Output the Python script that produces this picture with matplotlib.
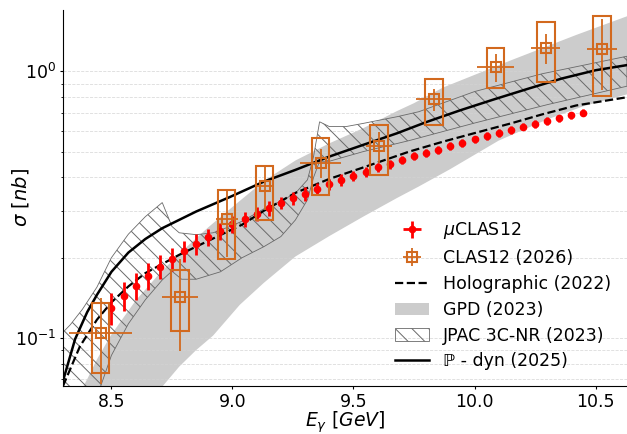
import matplotlib
matplotlib.use("Agg")
import matplotlib.pyplot as plt
import matplotlib.ticker as mticker
from matplotlib.patches import Rectangle, Patch

# muCLAS12 pseudo-data
mu_E = [8.50, 8.55, 8.60, 8.65, 8.70, 8.75, 8.80, 8.85, 8.90, 8.95,
        9.00, 9.05, 9.10, 9.15, 9.20, 9.25, 9.30, 9.35, 9.40, 9.45,
        9.50, 9.55, 9.60, 9.65, 9.70, 9.75, 9.80, 9.85, 9.90, 9.95,
        10.00, 10.05, 10.10, 10.15, 10.20, 10.25, 10.30, 10.35, 10.40, 10.45]
mu_sigma = [0.130, 0.144, 0.157, 0.171, 0.185, 0.198, 0.212, 0.225, 0.239, 0.252,
            0.267, 0.279, 0.292, 0.306, 0.321, 0.334, 0.347, 0.362, 0.377, 0.391,
            0.406, 0.421, 0.436, 0.449, 0.465, 0.481, 0.494, 0.509, 0.525, 0.540,
            0.556, 0.573, 0.588, 0.603, 0.621, 0.635, 0.652, 0.668, 0.684, 0.700]
mu_err = [0.018, 0.018, 0.0185, 0.020, 0.019, 0.020, 0.019, 0.020, 0.017, 0.018,
          0.019, 0.019, 0.018, 0.020, 0.017, 0.019, 0.020, 0.019, 0.019, 0.020,
          0.017, 0.018, 0.017, 0.017, 0.016, 0.017, 0.017, 0.018, 0.018, 0.018,
          0.018, 0.019, 0.019, 0.019, 0.020, 0.020, 0.020, 0.021, 0.021, 0.022]

# CLAS12 (2026)
clas_E = [8.455, 8.784, 8.976, 9.133, 9.364, 9.605, 9.832, 10.087, 10.295, 10.526]
clas_sigma = [0.104, 0.143, 0.279, 0.371, 0.455, 0.523, 0.785, 1.040, 1.225, 1.215]
clas_xerr = [0.129, 0.074, 0.045, 0.038, 0.085, 0.054, 0.072, 0.076, 0.060, 0.063]
clas_yerr = [0.037, 0.054, 0.078, 0.068, 0.057, 0.070, 0.077, 0.125, 0.155, 0.360]
clas_sys_lo = [0.074, 0.1065, 0.198, 0.277, 0.344, 0.409, 0.632, 0.863, 0.910, 0.812]
clas_sys_hi = [0.135, 0.180, 0.359, 0.441, 0.564, 0.632, 0.936, 1.226, 1.535, 1.614]

# Holographic (2022)
holo_E = [8.30, 8.37, 8.44, 8.50, 8.57, 8.64, 8.78, 8.92, 9.04, 9.13,
          9.26, 9.40, 9.54, 9.73, 9.87, 10.01, 10.15, 10.28, 10.42, 10.63]
holo = [0.066, 0.093, 0.117, 0.136, 0.156, 0.175, 0.205, 0.236, 0.266, 0.300,
        0.350, 0.395, 0.436, 0.500, 0.545, 0.590, 0.638, 0.690, 0.745, 0.800]

# P - dyn (2025)
pdyn_E = [8.30, 8.35, 8.40, 8.44, 8.50, 8.57, 8.64, 8.71, 8.85, 8.99, 9.13,
          9.26, 9.40, 9.54, 9.68, 9.80, 9.94, 10.08, 10.22, 10.36, 10.50, 10.63]
pdyn = [0.069, 0.099, 0.125, 0.145, 0.177, 0.209, 0.235, 0.258, 0.298, 0.338, 0.386,
        0.427, 0.479, 0.530, 0.586, 0.645, 0.714, 0.785, 0.860, 0.940, 1.010, 1.056]

# GPD (2023) band
gpd_up_E = [8.36, 8.40, 8.44, 8.50, 8.60, 8.70, 8.80, 8.90, 9.00, 9.13,
            9.26, 9.40, 9.54, 9.68, 9.75, 9.87, 10.15, 10.42, 10.63]
gpd_up = [0.060, 0.070, 0.083, 0.103, 0.138, 0.175, 0.215, 0.260, 0.310, 0.388,
          0.463, 0.537, 0.612, 0.710, 0.760, 0.870, 1.100, 1.370, 1.610]
gpd_lo_E = [8.66, 8.70, 8.78, 8.85, 8.92, 9.03, 9.13, 9.26, 9.40, 9.54,
            9.68, 9.77, 9.90, 10.10, 10.30, 10.45, 10.63]
gpd_lo = [0.058, 0.064, 0.078, 0.090, 0.102, 0.133, 0.161, 0.202, 0.241, 0.285,
          0.335, 0.370, 0.430, 0.550, 0.660, 0.740, 0.820]

# JPAC 3C-NR (2023) band
jpac_up_E = [8.30, 8.33, 8.38, 8.44, 8.50, 8.57, 8.64, 8.71, 8.75, 8.78,
             8.85, 8.92, 8.99, 9.04, 9.13, 9.20, 9.26, 9.31, 9.335, 9.36,
             9.40, 9.47, 9.54, 9.61, 9.68, 9.77, 10.00, 10.28, 10.63]
jpac_up = [0.105, 0.112, 0.128, 0.155, 0.200, 0.245, 0.285, 0.322, 0.262, 0.248,
           0.244, 0.248, 0.262, 0.274, 0.305, 0.326, 0.349, 0.392, 0.479, 0.647,
           0.621, 0.621, 0.638, 0.657, 0.676, 0.706, 0.840, 0.980, 1.140]
jpac_lo_E = [8.30, 8.44, 8.50, 8.57, 8.64, 8.71, 8.75, 8.79, 8.85, 8.95,
             9.04, 9.13, 9.20, 9.26, 9.31, 9.335, 9.36, 9.40, 9.54, 9.73,
             10.00, 10.30, 10.63]
jpac_lo = [0.050, 0.060, 0.086, 0.113, 0.139, 0.165, 0.178, 0.166, 0.166, 0.177,
           0.200, 0.220, 0.240, 0.277, 0.330, 0.400, 0.460, 0.460, 0.500, 0.550,
           0.640, 0.750, 0.880]

orange = "#d2691e"
box_half = 0.0365

plt.rcParams["hatch.linewidth"] = 0.7

fig = plt.figure(figsize=(6.27, 4.34), dpi=100)
ax = fig.add_axes([0.1005, 0.1106, 0.8995, 0.8664])
ax.set_yscale("log")

ax.fill(gpd_up_E + gpd_lo_E[::-1], gpd_up + gpd_lo[::-1],
        color="gray", alpha=0.4, lw=0, zorder=1)
ax.fill(jpac_up_E + jpac_lo_E[::-1], jpac_up + jpac_lo[::-1],
        facecolor="none", edgecolor="dimgray", hatch="\\\\", lw=0.6, zorder=2)

ax.plot(holo_E, holo, color="black", ls="--", lw=1.6, zorder=3)
ax.plot(pdyn_E, pdyn, color="black", ls="-", lw=1.8, zorder=3)

mu = ax.errorbar(mu_E, mu_sigma, yerr=mu_err, xerr=0.01, fmt="o", color="red",
                 ms=4.5, elinewidth=2, capsize=0, zorder=4)

for e, lo, hi in zip(clas_E, clas_sys_lo, clas_sys_hi):
    ax.add_patch(Rectangle((e - box_half, lo), 2 * box_half, hi - lo,
                           fill=False, ec=orange, lw=1.5, zorder=5))
clas = ax.errorbar(clas_E, clas_sigma, xerr=clas_xerr, yerr=clas_yerr, fmt="s",
                   mfc="none", mec=orange, ms=7.5, mew=1.5, ecolor=orange,
                   elinewidth=1.3, capsize=0, zorder=5)

ax.set_xlim(8.3, 10.63)
ax.set_ylim(0.066, 1.7)
ax.yaxis.set_minor_formatter(mticker.NullFormatter())
ax.grid(axis="y", which="both", ls="--", color="lightgray", lw=0.6, alpha=0.8)
ax.spines["top"].set_visible(False)
ax.spines["right"].set_visible(False)
ax.tick_params(which="major", labelsize=12.5, length=2.5, pad=2.2)
ax.tick_params(which="minor", length=1.6)

ax.set_xlabel(r"$E_{\gamma}\ [GeV]$", fontsize=13.5, labelpad=-0.5)
ax.set_ylabel(r"$\sigma\ [nb]$", fontsize=14)
ax.yaxis.set_label_coords(-0.057, 0.5)

handles = [
    mu,
    clas,
    plt.Line2D([], [], color="black", ls="--", lw=1.6),
    Patch(facecolor="gray", alpha=0.4),
    Patch(facecolor="none", edgecolor="dimgray", hatch="\\\\", lw=0.6),
    plt.Line2D([], [], color="black", ls="-", lw=1.8),
]
labels = [r"$\mu$CLAS12", "CLAS12 (2026)", "Holographic (2022)", "GPD (2023)",
          "JPAC 3C-NR (2023)", "ℙ - dyn (2025)"]
ax.legend(handles, labels, loc="lower right", frameon=False, fontsize=12.5,
          labelspacing=0.45)

fig.savefig("out.png", dpi=100)
